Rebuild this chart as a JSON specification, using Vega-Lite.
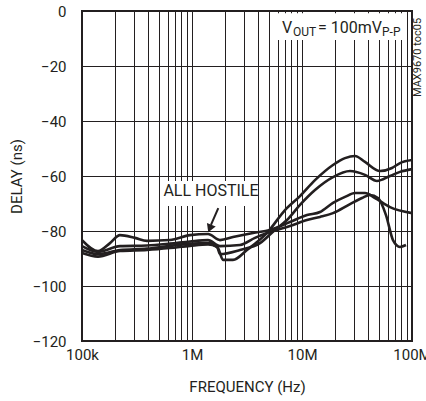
{
  "$schema": "https://vega.github.io/schema/vega-lite/v6.json",
  "width": 330,
  "height": 330,
  "autosize": {"type": "none"},
  "padding": {"left": 82, "top": 11, "right": 14, "bottom": 60},
  "background": "white",
  "config": {
    "font": "Roboto",
    "view": {"stroke": "#231f20", "strokeWidth": 2},
    "axis": {
      "grid": true,
      "gridColor": "#231f20",
      "gridWidth": 1,
      "gridOpacity": 1,
      "domain": false,
      "ticks": false,
      "labelFontSize": 15,
      "titleFontSize": 15,
      "labelColor": "#231f20",
      "titleColor": "#231f20",
      "titleFontWeight": "normal"
    }
  },
  "datasets": {
    "curves": [
      {"f": 100000, "d": -86.9, "s": "A"},
      {"f": 139800, "d": -88.4, "s": "A"},
      {"f": 221500, "d": -86.9, "s": "A"},
      {"f": 389900, "d": -86.4, "s": "A"},
      {"f": 631000, "d": -85.4, "s": "A"},
      {"f": 959000, "d": -84.6, "s": "A"},
      {"f": 1398000, "d": -84.4, "s": "A"},
      {"f": 1723000, "d": -86.2, "s": "A"},
      {"f": 1913000, "d": -90.5, "s": "A"},
      {"f": 2359000, "d": -90.5, "s": "A"},
      {"f": 3162000, "d": -86.9, "s": "A"},
      {"f": 4806000, "d": -80.7, "s": "A"},
      {"f": 7005000, "d": -72.4, "s": "A"},
      {"f": 9590000, "d": -67.3, "s": "A"},
      {"f": 13125000, "d": -61.5, "s": "A"},
      {"f": 19128000, "d": -56.0, "s": "A"},
      {"f": 24595000, "d": -53.5, "s": "A"},
      {"f": 30327000, "d": -52.7, "s": "A"},
      {"f": 37389000, "d": -54.9, "s": "A"},
      {"f": 51180000, "d": -58.2, "s": "A"},
      {"f": 65793000, "d": -57.1, "s": "A"},
      {"f": 77800000, "d": -55.3, "s": "A"},
      {"f": 100000000, "d": -54.2, "s": "A"},

      {"f": 100000, "d": -88.0, "s": "B"},
      {"f": 139800, "d": -89.3, "s": "B"},
      {"f": 221500, "d": -87.3, "s": "B"},
      {"f": 389900, "d": -86.9, "s": "B"},
      {"f": 631000, "d": -86.2, "s": "B"},
      {"f": 959000, "d": -85.4, "s": "B"},
      {"f": 1398000, "d": -84.9, "s": "B"},
      {"f": 1688000, "d": -85.8, "s": "B"},
      {"f": 1797000, "d": -88.4, "s": "B"},
      {"f": 2731000, "d": -86.9, "s": "B"},
      {"f": 4152000, "d": -84.4, "s": "B"},
      {"f": 5683000, "d": -79.6, "s": "B"},
      {"f": 7305000, "d": -76.0, "s": "B"},
      {"f": 9590000, "d": -70.5, "s": "B"},
      {"f": 13125000, "d": -65.1, "s": "B"},
      {"f": 19128000, "d": -60.4, "s": "B"},
      {"f": 27312000, "d": -58.2, "s": "B"},
      {"f": 37389000, "d": -59.6, "s": "B"},
      {"f": 48064000, "d": -61.8, "s": "B"},
      {"f": 63096000, "d": -60.0, "s": "B"},
      {"f": 77800000, "d": -58.5, "s": "B"},
      {"f": 100000000, "d": -57.5, "s": "B"},

      {"f": 100000, "d": -83.3, "s": "C"},
      {"f": 139800, "d": -87.3, "s": "C"},
      {"f": 179700, "d": -84.4, "s": "C"},
      {"f": 221500, "d": -81.5, "s": "C"},
      {"f": 303200, "d": -82.5, "s": "C"},
      {"f": 389900, "d": -83.6, "s": "C"},
      {"f": 631000, "d": -83.3, "s": "C"},
      {"f": 959000, "d": -81.5, "s": "C"},
      {"f": 1398000, "d": -81.1, "s": "C"},
      {"f": 1797000, "d": -83.3, "s": "C"},
      {"f": 2359000, "d": -82.2, "s": "C"},
      {"f": 3585000, "d": -80.7, "s": "C"},
      {"f": 5118000, "d": -79.6, "s": "C"},
      {"f": 7780000, "d": -76.7, "s": "C"},
      {"f": 11104000, "d": -74.2, "s": "C"},
      {"f": 14577000, "d": -73.1, "s": "C"},
      {"f": 19128000, "d": -69.8, "s": "C"},
      {"f": 24595000, "d": -67.6, "s": "C"},
      {"f": 30327000, "d": -66.2, "s": "C"},
      {"f": 37389000, "d": -66.2, "s": "C"},
      {"f": 46100000, "d": -68.0, "s": "C"},
      {"f": 63096000, "d": -71.3, "s": "C"},
      {"f": 100000000, "d": -73.5, "s": "C"},

      {"f": 100000, "d": -85.5, "s": "D"},
      {"f": 139800, "d": -87.6, "s": "D"},
      {"f": 221500, "d": -85.5, "s": "D"},
      {"f": 389900, "d": -85.3, "s": "D"},
      {"f": 631000, "d": -84.6, "s": "D"},
      {"f": 959000, "d": -83.8, "s": "D"},
      {"f": 1398000, "d": -83.3, "s": "D"},
      {"f": 1797000, "d": -85.5, "s": "D"},
      {"f": 2731000, "d": -85.1, "s": "D"},
      {"f": 3738000, "d": -82.5, "s": "D"},
      {"f": 5118000, "d": -80.4, "s": "D"},
      {"f": 7780000, "d": -78.2, "s": "D"},
      {"f": 11104000, "d": -76.0, "s": "D"},
      {"f": 14577000, "d": -74.9, "s": "D"},
      {"f": 19128000, "d": -73.5, "s": "D"},
      {"f": 27312000, "d": -70.2, "s": "D"},
      {"f": 35119000, "d": -68.0, "s": "D"},
      {"f": 41520000, "d": -66.9, "s": "D"},
      {"f": 49080000, "d": -68.0, "s": "D"},
      {"f": 58010000, "d": -74.2, "s": "D"},
      {"f": 67185000, "d": -83.3, "s": "D"},
      {"f": 77800000, "d": -85.8, "s": "D"},
      {"f": 88210000, "d": -85.1, "s": "D"}
    ],
    "boxes": [
      {"f1": 593000, "f2": 3900000, "d1": -61.8, "d2": -70.9},
      {"f1": 5450000, "f2": 90000000, "d1": -0.8, "d2": -10.5}
    ],
    "labels": [
      {"f": 1488000, "d": -65.6, "t": "ALL HOSTILE"}
    ],
    "vmain": [
      {"f": 6580000, "d": -8.1, "t": "V"},
      {"f": 13970000, "d": -8.1, "t": "= 100mV"}
    ],
    "vsub": [
      {"f": 8280000, "d": -9.1, "t": "OUT"},
      {"f": 53400000, "d": -9.1, "t": "P-P"}
    ],
    "side": [
      {"f": 113400000, "d": -16.9, "t": "MAX9670 toc05"}
    ],
    "arrowline": [
      {"f": 1734000, "d": -71.7},
      {"f": 1488000, "d": -77.8}
    ],
    "arrowhead": [
      {"f": 1451000, "d": -79.1}
    ]
  },
  "layer": [
    {
      "data": {"name": "curves"},
      "mark": {"type": "line", "color": "#231f20", "strokeWidth": 2.6, "interpolate": "monotone"},
      "encoding": {
        "x": {
          "field": "f", "type": "quantitative",
          "scale": {"type": "log", "domain": [100000, 100000000], "nice": false},
          "axis": {
            "title": "FREQUENCY (Hz)",
            "values": [100000, 200000, 300000, 400000, 500000, 600000, 700000, 800000, 900000, 1000000, 2000000, 3000000, 4000000, 5000000, 6000000, 7000000, 8000000, 9000000, 10000000, 20000000, 30000000, 40000000, 50000000, 60000000, 70000000, 80000000, 90000000, 100000000],
            "labelExpr": "datum.value == 100000 ? '100k' : datum.value == 1000000 ? '1M' : datum.value == 10000000 ? '10M' : datum.value == 100000000 ? '100M' : ''",
            "labelOverlap": false,
            "labelFlush": false,
            "labelPadding": 6,
            "titlePadding": 17
          }
        },
        "y": {
          "field": "d", "type": "quantitative",
          "scale": {"domain": [-120, 0], "nice": false},
          "axis": {
            "title": "DELAY (ns)",
            "values": [-120, -100, -80, -60, -40, -20, 0],
            "labelPadding": 16,
            "titlePadding": 8
          }
        },
        "detail": {"field": "s"}
      }
    },
    {
      "data": {"name": "boxes"},
      "mark": {"type": "rect", "color": "white"},
      "encoding": {
        "x": {"field": "f1", "type": "quantitative"},
        "x2": {"field": "f2"},
        "y": {"field": "d1", "type": "quantitative"},
        "y2": {"field": "d2"}
      }
    },
    {
      "data": {"name": "labels"},
      "mark": {"type": "text", "fontSize": 16, "color": "#231f20", "align": "center", "baseline": "middle"},
      "encoding": {
        "x": {"field": "f", "type": "quantitative"},
        "y": {"field": "d", "type": "quantitative"},
        "text": {"field": "t"}
      }
    },
    {
      "data": {"name": "vmain"},
      "mark": {"type": "text", "fontSize": 16, "color": "#231f20", "align": "left", "baseline": "alphabetic"},
      "encoding": {
        "x": {"field": "f", "type": "quantitative"},
        "y": {"field": "d", "type": "quantitative"},
        "text": {"field": "t"}
      }
    },
    {
      "data": {"name": "vsub"},
      "mark": {"type": "text", "fontSize": 12, "color": "#231f20", "align": "left", "baseline": "alphabetic"},
      "encoding": {
        "x": {"field": "f", "type": "quantitative"},
        "y": {"field": "d", "type": "quantitative"},
        "text": {"field": "t"}
      }
    },
    {
      "data": {"name": "side"},
      "mark": {"type": "text", "fontSize": 11, "color": "#231f20", "align": "center", "baseline": "middle", "angle": 270},
      "encoding": {
        "x": {"field": "f", "type": "quantitative"},
        "y": {"field": "d", "type": "quantitative"},
        "text": {"field": "t"}
      }
    },
    {
      "data": {"name": "arrowline"},
      "mark": {"type": "line", "color": "#231f20", "strokeWidth": 2},
      "encoding": {
        "x": {"field": "f", "type": "quantitative"},
        "y": {"field": "d", "type": "quantitative"}
      }
    },
    {
      "data": {"name": "arrowhead"},
      "mark": {"type": "point", "shape": "triangle-down", "filled": true, "color": "#231f20", "size": 90, "opacity": 1, "angle": 22},
      "encoding": {
        "x": {"field": "f", "type": "quantitative"},
        "y": {"field": "d", "type": "quantitative"}
      }
    }
  ]
}
